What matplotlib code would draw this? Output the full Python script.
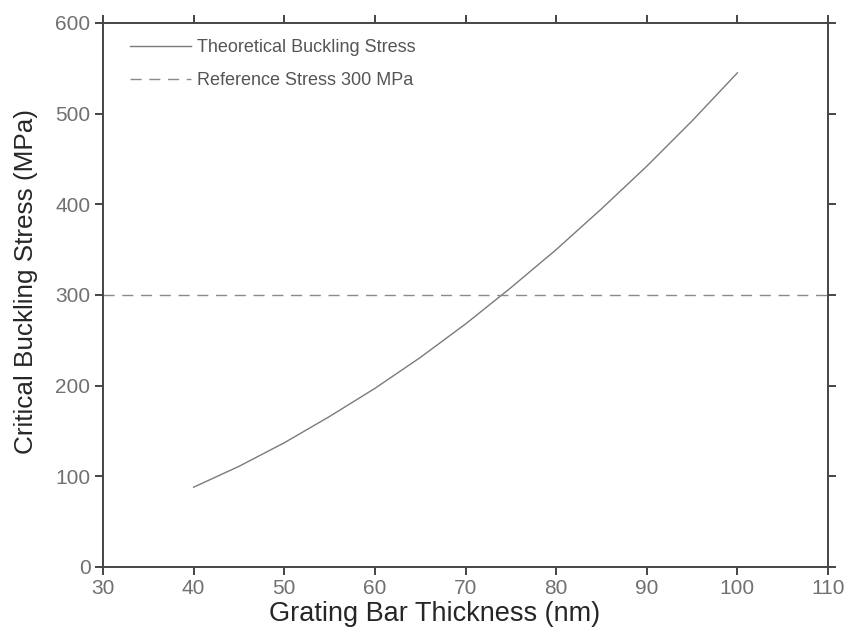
import matplotlib
matplotlib.use("Agg")
import matplotlib.pyplot as plt
from matplotlib import font_manager

# Bar thickness (nm) and theoretical critical buckling stress (MPa)
thickness_nm = [40, 45, 50, 55, 60, 65, 70, 75, 80, 85, 90, 95, 100]
buckling_mpa = [88, 111, 137, 166, 197, 231, 268, 308, 350, 395, 442, 492, 545]
reference_mpa = 300

x_ticks = [30, 40, 50, 60, 70, 80, 90, 100, 110]
y_ticks = [0, 100, 200, 300, 400, 500, 600]

names = {f.name for f in font_manager.fontManager.ttflist}
family = "Liberation Sans" if "Liberation Sans" in names else "DejaVu Sans"
plt.rcParams["font.family"] = [family, "DejaVu Sans"]

fig = plt.figure(figsize=(8.52, 6.37), dpi=100)
ax = fig.add_axes([103 / 852, 70 / 637, (828 - 103) / 852, (614 - 70) / 637])

ax.plot(thickness_nm, buckling_mpa, color="#7a7a7a", lw=1.0,
        label="Theoretical Buckling Stress")
ref_line, = ax.plot([x_ticks[0], x_ticks[-1]], [reference_mpa, reference_mpa],
                    color="#8a8a8a", lw=1.0, label="Reference Stress 300 MPa")
ref_line.set_dashes((8, 5.5))

ax.set_xlim(x_ticks[0], x_ticks[-1])
ax.set_ylim(y_ticks[0], y_ticks[-1])
ax.set_xticks(x_ticks)
ax.set_yticks(y_ticks)

for side in ["left", "right", "top", "bottom"]:
    ax.spines[side].set_color("#454545")
    ax.spines[side].set_linewidth(1.4)

ax.tick_params(axis="both", which="both", direction="out", length=6, width=1.4,
               color="#454545", labelcolor="#707070", labelsize=15,
               top=True, right=True, pad=3)

ax.set_xlabel("Grating Bar Thickness (nm)", fontsize=19.5, color="#262626")
ax.set_ylabel("Critical Buckling Stress (MPa)", fontsize=18.8, color="#262626")
ax.xaxis.set_label_coords(0.457, -0.062, transform=ax.transAxes)
ax.yaxis.set_label_coords(-0.089, 0.524, transform=ax.transAxes)

leg = ax.legend(loc="upper left", bbox_to_anchor=(130 / 852, 1 - 39 / 637),
                bbox_transform=fig.transFigure, frameon=False, fontsize=13,
                handlelength=3.4, handletextpad=0.3, labelspacing=0.9,
                borderpad=0, borderaxespad=0)
for t in leg.get_texts():
    t.set_color("#555555")

fig.savefig("out.png", dpi=100)
